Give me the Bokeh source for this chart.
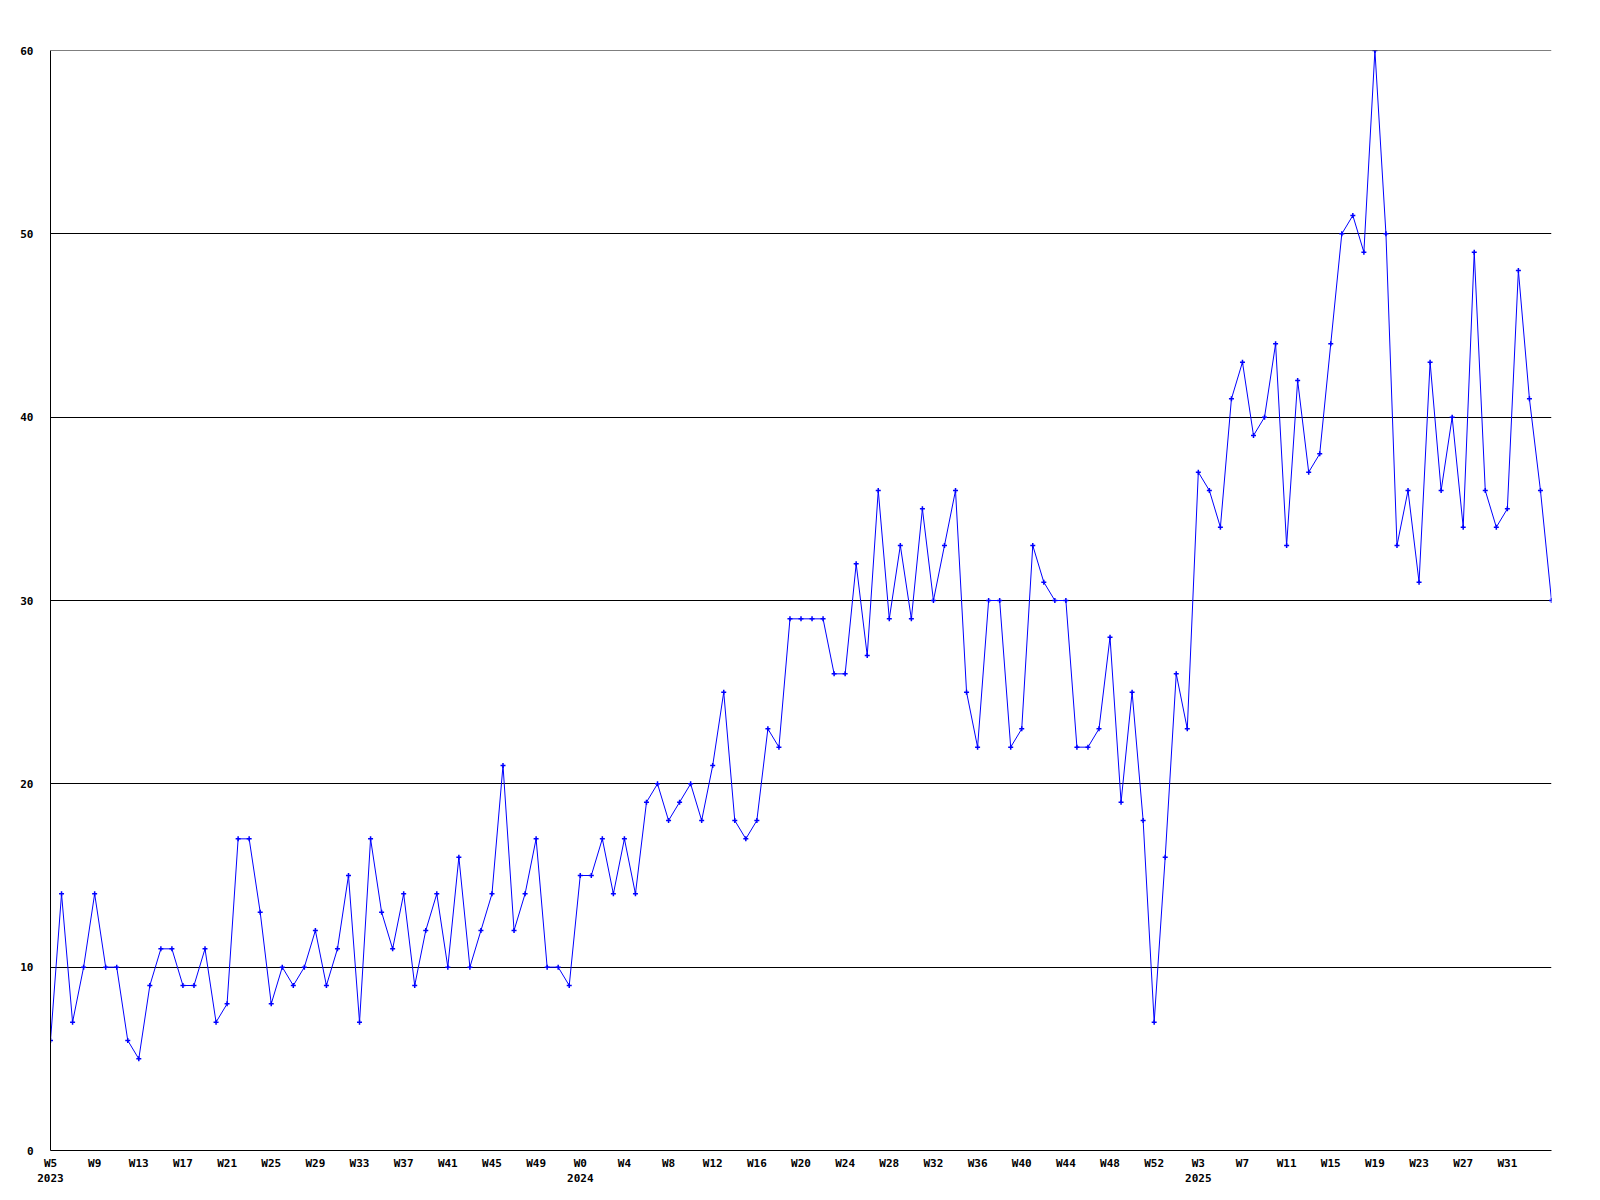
from bokeh.plotting import figure
from bokeh.models import Range1d, FixedTicker, Span
from bokeh.embed import file_html
from bokeh.resources import INLINE

# weekly counts, W5 2023 .. W35 2025
values = [6, 14, 7, 10, 14, 10, 10, 6, 5, 9, 11, 11, 9, 9, 11, 7, 8, 17, 17, 13,
          8, 10, 9, 10, 12, 9, 11, 15, 7, 17, 13, 11, 14, 9, 12, 14, 10, 16, 10, 12,
          14, 21, 12, 14, 17, 10, 10,
          9, 15, 15, 17, 14, 17, 14, 19, 20, 18, 19, 20, 18, 21, 25, 18, 17, 18, 23,
          22, 29, 29, 29, 29, 26, 26, 32, 27, 36, 29, 33, 29, 35, 30, 33, 36, 25, 22,
          30, 30,
          22, 23, 33, 31, 30, 30, 22, 22, 23, 28, 19, 25, 18, 7, 16, 26, 23, 37, 36,
          34, 41, 43, 39, 40,
          44, 33, 42, 37, 38, 44, 50, 51, 49, 60, 50, 33, 36, 31, 43, 36, 40, 34, 49,
          36, 34, 35, 48, 41, 36, 30]

week_labels = ["W5", "W9", "W13", "W17", "W21", "W25", "W29", "W33", "W37", "W41", "W45", "W49",
               "W0", "W4", "W8", "W12", "W16", "W20", "W24", "W28", "W32", "W36", "W40", "W44", "W48", "W52",
               "W3", "W7", "W11", "W15", "W19", "W23", "W27", "W31"]
year_labels = ["2023"] + [""] * 11 + ["2024"] + [""] * 13 + ["2025"] + [""] * 7
label_step = 4
y_ticks = [0, 10, 20, 30, 40, 50, 60]

x = list(range(len(values)))
tick_pos = [i * label_step for i in range(len(week_labels))]
overrides = {}
for t, w, yl in zip(tick_pos, week_labels, year_labels):
    overrides[t] = w + ("\n" + yl if yl else "")

p = figure(width=1590, height=1195, output_backend="svg", toolbar_location=None,
           x_range=Range1d(0, len(values) - 1), y_range=Range1d(0, 60),
           min_border_left=50, min_border_right=39, min_border_top=50, min_border_bottom=45)
p.background_fill_color = "white"
p.border_fill_color = "white"
p.outline_line_color = None

p.xgrid.grid_line_color = None
p.ygrid.grid_line_color = "black"
p.ygrid.grid_line_width = 1
p.ygrid.grid_line_alpha = 1.0

p.add_layout(Span(location=max(y_ticks), dimension="width", line_color="black", line_width=1))

p.yaxis.ticker = FixedTicker(ticks=y_ticks)
p.xaxis.ticker = FixedTicker(ticks=tick_pos)
p.xaxis.major_label_overrides = overrides

for ax in (p.xaxis[0], p.yaxis[0]):
    ax.axis_line_color = "black"
    ax.axis_line_width = 1
    ax.major_tick_in = 0
    ax.major_tick_out = 0
    ax.minor_tick_in = 0
    ax.minor_tick_out = 0
    ax.major_label_text_font = "DejaVu Sans Mono"
    ax.major_label_text_font_style = "bold"
    ax.major_label_text_font_size = "11px"
    ax.major_label_text_color = "black"

p.yaxis.major_label_standoff = 17
p.xaxis.major_label_standoff = 6
p.xaxis.major_label_text_line_height = 1.2

p.line(x, values, line_color="#0000ff", line_width=1)
p.scatter(x, values, marker="cross", size=5, line_width=1.5, line_color="#0000ff")

open("out.html", "w").write(file_html(p, INLINE))
